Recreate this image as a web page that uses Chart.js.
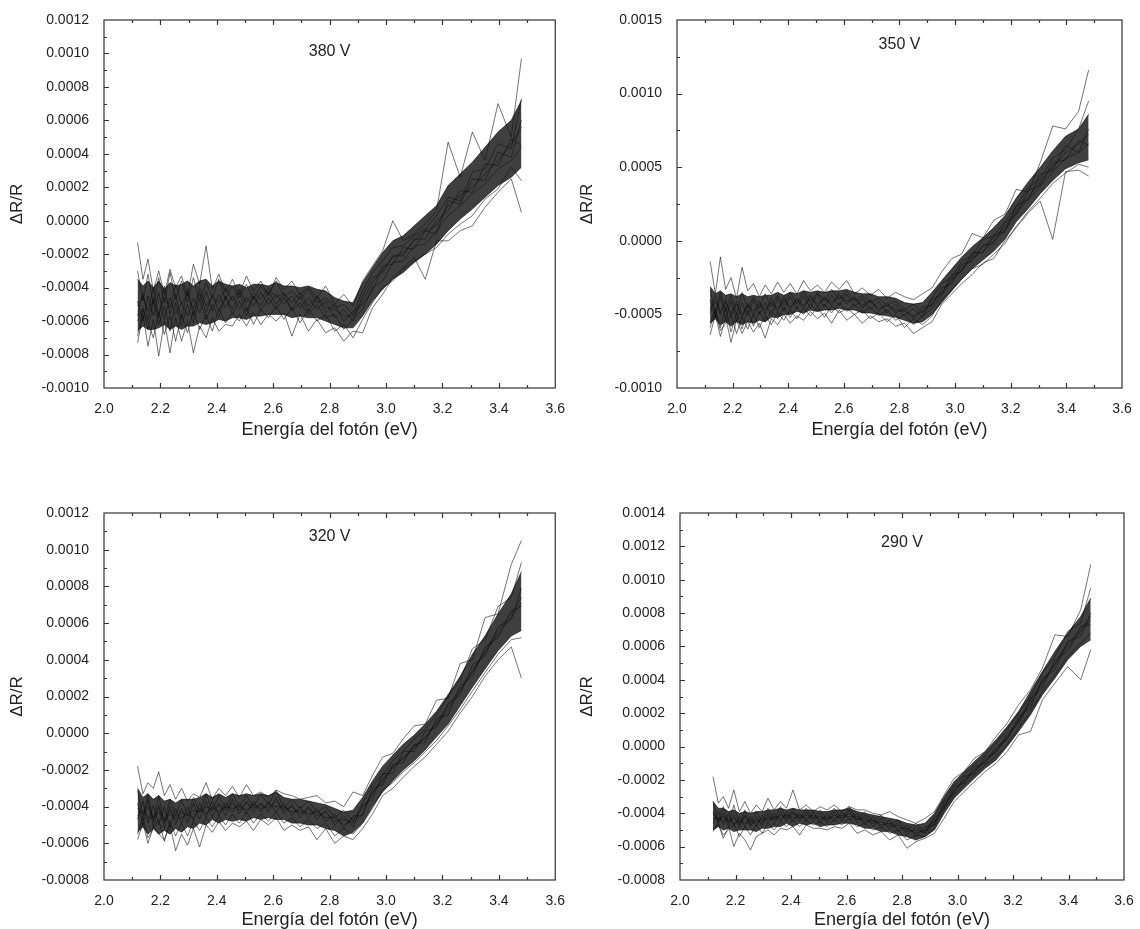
<!DOCTYPE html>
<html>
<head>
<meta charset="utf-8">
<script src="https://cdn.jsdelivr.net/npm/chart.js@4.4.1/dist/chart.umd.min.js"></script>
<style>
  html, body { margin: 0; padding: 0; background: #fff; overflow: hidden; }
  body { width: 1140px; height: 929px; position: relative; }
  canvas { position: absolute; }
</style>
</head>
<body>
<canvas id="c380" width="570" height="460" style="left:0;top:0"></canvas>
<canvas id="c350" width="570" height="460" style="left:570px;top:0"></canvas>
<canvas id="c320" width="570" height="480" style="left:0;top:460px"></canvas>
<canvas id="c290" width="570" height="480" style="left:570px;top:460px"></canvas>
<script>
/* Photoreflectance spectra at four bias voltages.
   Each panel: a dark band (spread of the repeated scans) plus a few
   individual scans drawn on top. */

// photon energy (eV), 585 nm -> 355 nm in 5 nm steps
const energia = [2.119, 2.138, 2.156, 2.175, 2.194, 2.214, 2.234, 2.254,
  2.275, 2.296, 2.317, 2.339, 2.362, 2.384, 2.407, 2.431,
  2.455, 2.480, 2.505, 2.530, 2.556, 2.583, 2.610, 2.638,
  2.666, 2.695, 2.725, 2.755, 2.786, 2.818, 2.850, 2.883,
  2.917, 2.952, 2.988, 3.024, 3.061, 3.100, 3.139, 3.179,
  3.220, 3.263, 3.306, 3.351, 3.397, 3.444, 3.480];

// all ΔR/R values below are in units of 1e-4

// 380 V
const hi380 = [-3.5,-3.9,-3.6,-4.0,-3.6,-4.1,-3.7,-3.9, -3.8,-3.6,-3.9,-3.6,-3.5,-3.9,-3.6,-3.8, -3.9,-3.8,-4.0,-3.8,-3.8,-3.9,-3.7,-3.9, -3.9,-4.0,-3.9,-4.1,-4.2,-4.6,-4.8,-4.9, -3.7,-2.8,-1.9,-1.2,-0.9,-0.3,0.3,0.9, 2.1,2.8,3.5,4.4,5.3,6.0,7.2];
const lo380 = [-6.6,-6.3,-6.5,-6.5,-6.4,-6.2,-6.5,-6.3, -6.5,-6.3,-6.3,-6.1,-6.2,-6.1,-5.9,-6.0, -5.8,-5.8,-5.9,-5.7,-5.7,-5.6,-5.6,-5.6, -5.8,-5.7,-5.8,-5.8,-6.0,-6.2,-6.4,-6.4, -5.7,-4.8,-4.1,-3.5,-3.1,-2.5,-2.0,-1.4, -0.6,0.1,0.7,1.4,2.1,2.6,3.2];
const s380a = [-1.3,-3.5,-2.3,-4.2,-3.0,-4.4,-2.9,-4.0, -3.3,-4.5,-2.6,-3.8,-1.5,-4.1,-3.2,-4.3, -3.5,-4.4,-3.3,-4.2,-3.6,-4.5,-3.4,-4.1, -3.6,-4.4,-4.0,-4.6,-3.9,-5.0,-4.4,-5.1, -3.6,-2.7,-1.8,0.0,-1.2,-0.8,-0.2,0.6, 4.7,2.6,5.3,3.6,7.0,5.0,9.7];
const s380b = [-7.3,-5.6,-7.5,-5.9,-8.1,-6.0,-7.9,-5.8, -7.2,-6.0,-7.9,-6.3,-7.0,-5.8,-6.6,-6.2, -6.3,-5.6,-6.3,-5.5,-6.2,-5.6,-6.0,-5.5, -6.9,-5.6,-6.6,-5.9,-6.7,-6.4,-7.2,-6.6, -6.7,-5.2,-4.4,-3.4,-2.8,-2.2,-3.5,-1.2, -1.2,-0.6,-0.3,0.8,1.7,2.5,0.5];
const s380c = [-4.8,-6.0,-4.5,-5.7,-4.3,-5.9,-4.6,-5.6, -4.9,-5.7,-4.6,-5.5,-4.2,-5.4,-4.4,-5.2, -4.5,-5.3,-4.6,-5.1,-4.3,-5.0,-4.4,-5.0, -4.5,-5.2,-4.6,-5.3,-4.8,-5.8,-5.3,-6.0, -4.5,-3.4,-3.1,-2.1,-2.1,-1.1,-1.1,0.0, 0.6,1.8,1.7,3.4,3.3,4.9,4.5];
const s380d = [-5.7,-4.3,-5.9,-4.6,-5.8,-3.9,-5.6,-4.4, -5.9,-4.1,-5.7,-4.3,-5.5,-4.4,-5.4,-4.5, -5.3,-4.3,-5.4,-4.5,-5.1,-4.2,-5.0,-4.4, -5.3,-4.5,-5.4,-4.6,-5.5,-5.0,-6.0,-5.4, -5.0,-4.2,-2.7,-2.6,-1.6,-1.7,-0.6,-0.8, 1.2,1.0,2.5,2.4,4.1,3.8,6.0];
const s380e = [-6.0,-5.2,-6.5,-4.8,-6.2,-5.1,-6.6,-4.9, -6.3,-5.0,-6.1,-4.7,-5.9,-5.0,-5.8,-4.6, -5.6,-4.8,-5.7,-4.5,-5.4,-4.6,-5.3,-4.6, -5.4,-4.9,-5.6,-5.0,-5.8,-5.6,-6.5,-5.9, -5.3,-4.0,-3.6,-2.5,-2.4,-1.5,-1.4,-0.6, 0.3,0.9,1.6,2.2,3.1,3.6,4.4];
const s380f = [-3.0,-4.8,-3.2,-5.0,-3.4,-4.9,-3.1,-4.7, -3.6,-4.9,-3.4,-4.8,-3.7,-4.6,-3.5,-4.7, -3.9,-4.6,-3.8,-4.7,-3.9,-4.4,-3.6,-4.5, -4.2,-4.7,-4.1,-4.9,-4.6,-5.2,-5.0,-5.6, -4.2,-3.1,-2.4,-1.6,-1.5,-0.9,-0.5,0.3, 1.4,1.2,2.9,3.1,4.6,4.3,7.3];
const s380g = [-6.9,-5.3,-6.1,-7.0,-5.5,-6.8,-5.7,-7.2, -5.6,-6.7,-5.4,-6.5,-5.6,-6.6,-5.3,-6.1, -5.5,-6.0,-5.2,-6.2,-5.3,-5.8,-5.1,-5.9, -5.2,-6.1,-5.3,-6.0,-5.6,-6.6,-6.2,-7.0, -5.9,-4.9,-4.0,-3.6,-2.9,-2.4,-2.0,-1.6, -0.8,-0.2,0.3,1.3,1.9,3.2,2.4];
const s380h = [-5.1,-4.5,-5.4,-4.0,-5.6,-4.6,-5.2,-3.8, -5.0,-4.3,-5.3,-4.0,-5.1,-4.6,-4.9,-4.0, -4.8,-4.1,-4.9,-4.3,-4.7,-4.0,-4.6,-4.3, -4.9,-4.3,-5.1,-4.5,-5.2,-5.3,-5.7,-5.7, -4.8,-3.7,-2.9,-2.2,-1.9,-1.2,-0.6,-0.3, 0.9,1.5,2.0,2.8,3.6,4.6,5.6];

// 350 V
const hi350 = [-3.1,-3.6,-3.4,-3.7,-3.6,-3.8,-3.6,-3.8, -3.7,-3.8,-3.7,-3.7,-3.5,-3.7,-3.5,-3.6, -3.4,-3.5,-3.4,-3.5,-3.4,-3.4,-3.3,-3.5, -3.6,-3.6,-3.8,-3.8,-3.9,-4.2,-4.3,-4.2, -3.5,-2.7,-1.9,-1.1,-0.4,0.2,0.9,1.7, 2.9,4.0,5.0,6.1,7.1,7.6,8.6];
const lo350 = [-5.6,-5.3,-5.7,-5.5,-5.8,-5.5,-5.7,-5.5, -5.6,-5.4,-5.5,-5.2,-5.2,-5.0,-5.0,-4.8, -4.9,-4.7,-4.8,-4.7,-4.7,-4.6,-4.7,-4.7, -4.9,-4.9,-5.0,-5.1,-5.2,-5.4,-5.6,-5.5, -5.0,-4.2,-3.4,-2.6,-1.9,-1.3,-0.7,0.1, 1.3,2.2,3.2,4.1,4.9,5.3,5.5];
const s350a = [-1.4,-3.6,-1.1,-3.3,-2.5,-3.9,-1.8,-3.4, -2.9,-3.8,-3.0,-3.6,-2.8,-3.5,-2.9,-3.6, -2.7,-3.4,-3.0,-3.5,-2.8,-3.3,-2.7,-3.6, -3.2,-3.7,-3.3,-3.9,-3.5,-3.8,-4.0,-3.6, -3.2,-2.1,-1.2,-0.9,0.5,0.2,1.4,1.8, 3.5,3.3,5.3,7.8,7.6,8.8,11.6];
const s350b = [-6.4,-5.0,-6.5,-5.2,-6.9,-5.4,-6.3,-5.5, -6.2,-5.6,-6.6,-5.3,-5.7,-5.0,-5.6,-5.1, -5.4,-4.8,-5.3,-4.9,-5.6,-4.7,-5.4,-5.0, -5.6,-5.1,-5.5,-5.3,-5.8,-5.6,-6.3,-5.9, -5.5,-4.3,-3.6,-2.9,-2.3,-1.5,-1.2,0.0, 0.9,1.9,2.7,0.1,4.7,4.8,4.4];
const s350c = [-4.0,-5.2,-3.8,-5.3,-4.1,-5.4,-4.2,-5.1, -4.0,-5.0,-4.2,-5.1,-3.9,-4.8,-3.8,-4.6, -3.7,-4.6,-3.6,-4.5,-3.7,-4.4,-3.6,-4.5, -3.9,-4.7,-4.1,-4.9,-4.3,-5.1,-4.6,-5.2, -4.0,-3.6,-2.3,-2.1,-0.8,-0.8,0.4,0.6, 2.4,2.8,4.5,4.8,6.5,6.0,7.6];
const s350d = [-4.9,-3.7,-5.0,-4.0,-5.2,-4.1,-5.3,-4.2, -5.1,-4.1,-5.0,-3.9,-4.9,-3.8,-4.7,-3.9, -4.6,-3.7,-4.5,-3.8,-4.4,-3.6,-4.3,-3.8, -4.6,-4.0,-4.8,-4.2,-4.9,-4.6,-5.3,-4.5, -4.4,-3.2,-2.9,-1.6,-1.4,-0.3,-0.2,1.2, 1.8,3.4,3.8,5.3,5.5,6.8,6.5];
const s350e = [-5.6,-4.6,-5.9,-4.5,-6.2,-4.9,-6.0,-4.7, -5.8,-4.8,-5.5,-4.7,-5.3,-4.5,-5.2,-4.5, -5.0,-4.3,-4.8,-4.3,-4.9,-4.2,-4.8,-4.3, -4.9,-4.5,-5.1,-4.7,-5.4,-5.0,-5.7,-5.1, -4.6,-3.7,-2.7,-2.0,-1.2,-0.7,0.0,0.7, 1.9,2.8,3.7,4.7,5.6,6.0,6.6];
const s350f = [-3.3,-4.9,-3.5,-4.8,-3.7,-5.0,-3.5,-4.6, -3.8,-4.6,-3.6,-4.5,-3.7,-4.4,-3.5,-4.3, -3.4,-4.2,-3.5,-4.1,-3.3,-4.0,-3.4,-4.1, -3.7,-4.2,-3.9,-4.4,-4.1,-4.7,-4.3,-4.9, -3.9,-2.9,-2.5,-1.4,-1.0,0.1,0.3,1.3, 2.3,3.6,4.2,5.6,6.2,7.6,9.5];
const s350g = [-5.9,-4.8,-6.1,-5.6,-5.0,-6.3,-5.2,-6.0, -5.0,-5.9,-5.1,-5.7,-4.9,-5.4,-4.7,-5.3, -4.6,-5.1,-4.5,-5.2,-4.4,-4.9,-4.6,-5.0, -4.7,-5.3,-4.9,-5.5,-5.0,-5.9,-5.3,-5.7, -5.1,-4.0,-3.3,-2.6,-1.9,-1.6,-0.9,-0.2, 1.0,2.0,2.9,3.9,4.6,5.2,5.0];
const s350h = [-4.6,-4.1,-4.8,-4.2,-4.9,-4.3,-5.0,-4.4, -4.8,-4.3,-4.7,-4.2,-4.6,-4.0,-4.5,-4.0, -4.4,-3.9,-4.3,-3.9,-4.2,-3.8,-4.1,-3.9, -4.4,-4.1,-4.6,-4.4,-4.7,-4.8,-5.1,-4.8, -4.3,-3.5,-2.6,-1.9,-1.1,-0.4,0.2,0.9, 2.1,3.0,4.0,5.0,6.0,6.6,7.2];

// 320 V
const hi320 = [-3.0,-3.5,-3.3,-3.6,-3.4,-3.7,-3.6,-3.8, -3.6,-3.6,-3.6,-3.5,-3.3,-3.5,-3.3,-3.5, -3.3,-3.4,-3.3,-3.4,-3.3,-3.4,-3.2,-3.5, -3.6,-3.6,-3.7,-3.8,-3.9,-4.1,-4.3,-4.2, -3.5,-2.6,-1.8,-1.2,-0.6,-0.1,0.5,1.2, 2.1,3.1,4.3,5.3,6.5,7.6,8.8];
const lo320 = [-5.4,-5.1,-5.5,-5.2,-5.5,-5.3,-5.5,-5.2, -5.4,-5.1,-5.2,-4.9,-5.0,-4.7,-4.9,-4.7, -4.8,-4.7,-4.8,-4.6,-4.7,-4.6,-4.7,-4.7, -4.9,-4.9,-5.0,-5.0,-5.2,-5.3,-5.6,-5.4, -4.9,-4.0,-3.2,-2.6,-2.0,-1.5,-0.9,-0.2, 0.5,1.5,2.5,3.5,4.5,5.3,5.6];
const s320a = [-1.8,-3.3,-2.7,-3.0,-2.1,-3.4,-2.8,-3.6, -3.0,-3.7,-3.3,-3.5,-2.7,-3.6,-3.0,-3.4, -2.9,-3.5,-2.8,-3.4,-3.2,-3.5,-3.1,-3.3, -3.4,-3.6,-3.5,-3.4,-3.8,-3.7,-4.0,-3.2, -3.4,-2.3,-1.3,-1.1,-0.3,0.4,0.5,1.8, 1.9,3.8,4.0,6.3,6.5,9.2,10.5];
const s320b = [-5.8,-4.9,-6.0,-5.1,-5.5,-5.8,-5.0,-6.4, -5.5,-6.1,-5.2,-6.2,-5.0,-5.4,-4.8,-5.3, -4.9,-5.1,-4.8,-5.3,-4.7,-5.0,-4.6,-5.3, -5.0,-5.3,-5.1,-5.8,-5.2,-6.0,-5.6,-5.8, -5.2,-4.4,-3.4,-3.0,-2.4,-1.8,-1.3,-0.6, 0.1,1.1,2.0,3.1,4.0,4.7,3.0];
const s320c = [-3.8,-5.0,-3.6,-5.1,-3.9,-5.2,-4.0,-5.0, -4.1,-4.9,-3.8,-4.7,-3.7,-4.6,-3.8,-4.5, -3.6,-4.4,-3.7,-4.3,-3.8,-4.3,-3.5,-4.4, -3.9,-4.6,-4.0,-4.7,-4.2,-5.0,-4.5,-5.1, -3.9,-3.6,-2.2,-2.2,-1.0,-1.0,0.1,0.3, 1.6,2.1,3.7,4.2,5.8,6.2,7.9];
const s320d = [-4.7,-3.7,-4.9,-3.9,-5.0,-4.0,-5.1,-4.1, -4.9,-4.0,-4.8,-3.8,-4.6,-3.7,-4.5,-3.8, -4.3,-3.8,-4.4,-3.7,-4.3,-3.7,-4.3,-3.8, -4.5,-4.0,-4.6,-4.1,-4.8,-4.4,-5.2,-4.5, -4.5,-3.0,-2.8,-1.7,-1.6,-0.6,-0.5,0.8, 1.0,2.6,3.1,4.7,5.2,6.7,6.9];
const s320e = [-4.5,-4.2,-4.6,-4.6,-4.3,-4.8,-4.4,-4.7, -4.6,-4.4,-4.6,-4.1,-4.4,-4.0,-4.3,-4.0, -4.1,-4.0,-4.2,-3.9,-4.1,-3.9,-4.0,-4.0, -4.3,-4.2,-4.4,-4.3,-4.6,-4.6,-5.0,-4.7, -4.1,-3.3,-2.5,-1.9,-1.3,-0.8,-0.2,0.5, 1.3,2.3,3.4,4.4,5.4,6.3,7.1];
const s320f = [-3.1,-4.6,-3.3,-4.8,-3.4,-4.9,-3.6,-4.5, -3.6,-4.5,-3.5,-4.3,-3.3,-4.2,-3.4,-4.1, -3.3,-4.0,-3.4,-4.0,-3.3,-3.9,-3.1,-4.1, -3.6,-4.1,-3.7,-4.3,-4.0,-4.6,-4.2,-4.8, -3.8,-2.8,-2.3,-1.5,-1.0,-0.3,0.2,1.0, 2.0,2.9,4.6,5.1,6.9,7.4,9.3];
const s320g = [-5.5,-4.6,-5.7,-5.2,-4.7,-5.9,-4.8,-5.6, -4.9,-5.6,-4.8,-5.3,-4.6,-5.1,-4.5,-5.0, -4.4,-4.9,-4.3,-4.9,-4.4,-4.8,-4.3,-4.9, -4.6,-5.1,-4.7,-5.2,-4.9,-5.6,-5.2,-5.5, -4.9,-4.1,-3.1,-2.7,-2.1,-1.6,-1.0,-0.4, 0.4,1.3,2.3,3.3,4.3,5.1,5.2];
const s320h = [-4.1,-4.4,-4.0,-4.6,-4.1,-4.7,-4.2,-4.6, -4.3,-4.5,-4.2,-4.3,-4.0,-4.2,-3.9,-4.2, -3.8,-4.2,-3.8,-4.1,-3.9,-4.1,-3.7,-4.2, -4.0,-4.4,-4.1,-4.5,-4.3,-4.8,-4.7,-4.9, -4.4,-3.2,-2.6,-1.8,-1.4,-0.7,-0.3,0.6, 1.5,2.4,3.3,4.5,5.6,6.5,7.4];

// 290 V
const hi290 = [-3.3,-3.7,-3.7,-3.9,-3.8,-4.0,-3.9,-4.0, -3.9,-3.9,-3.8,-3.8,-3.7,-3.8,-3.7,-3.8, -3.8,-3.8,-3.9,-3.9,-3.8,-3.8,-3.7,-3.9, -4.0,-4.1,-4.2,-4.3,-4.4,-4.6,-4.7,-4.6, -4.0,-3.0,-2.1,-1.5,-0.9,-0.3,0.4,1.2, 2.1,3.3,4.5,5.7,6.8,7.8,8.9];
const lo290 = [-5.0,-4.8,-5.0,-4.9,-5.1,-5.0,-5.0,-5.0, -5.1,-4.9,-4.9,-4.8,-4.8,-4.6,-4.8,-4.6, -4.7,-4.6,-4.8,-4.7,-4.7,-4.6,-4.6,-4.7, -4.9,-4.9,-5.1,-5.1,-5.3,-5.4,-5.6,-5.4, -5.0,-4.0,-3.1,-2.5,-1.9,-1.3,-0.8,0.0, 0.9,1.9,3.1,4.1,5.2,6.0,6.4];
const s290a = [-1.8,-3.4,-3.0,-3.7,-2.6,-3.9,-3.3,-4.0, -3.5,-3.9,-3.1,-3.8,-3.3,-3.7,-2.6,-3.8, -3.5,-3.9,-3.6,-3.8,-3.5,-3.9,-3.6,-3.8, -3.8,-4.0,-4.1,-3.9,-4.2,-4.4,-4.6,-4.3, -3.9,-2.9,-1.9,-1.5,-0.7,-0.3,0.6,1.4, 2.5,3.4,4.7,6.7,6.6,8.2,10.9];
const s290b = [-5.0,-4.6,-5.5,-4.8,-6.0,-5.2,-5.6,-6.2, -5.4,-5.2,-5.0,-5.3,-4.9,-5.0,-4.8,-5.3, -4.7,-4.9,-4.9,-5.0,-4.8,-4.9,-4.6,-5.2, -5.0,-5.3,-5.1,-5.6,-5.3,-6.1,-5.7,-5.5, -5.2,-4.3,-3.3,-2.7,-2.1,-1.5,-1.0,-0.3, 0.7,0.9,2.8,3.8,4.8,4.0,5.8];
const s290c = [-3.9,-4.6,-4.0,-4.8,-4.1,-4.9,-4.1,-4.8, -4.2,-4.8,-4.0,-4.7,-3.9,-4.5,-3.9,-4.5, -3.9,-4.5,-4.0,-4.6,-3.9,-4.5,-3.8,-4.6, -4.1,-4.8,-4.3,-5.0,-4.5,-5.3,-4.8,-5.2, -4.3,-3.7,-2.4,-2.2,-1.2,-1.0,0.0,0.4, 1.8,2.3,4.1,4.6,6.3,6.6,8.0];
const s290d = [-4.6,-3.9,-4.7,-4.0,-4.8,-4.2,-4.8,-4.2, -4.8,-4.1,-4.6,-4.0,-4.5,-3.9,-4.5,-4.0, -4.5,-3.9,-4.6,-4.0,-4.5,-3.9,-4.4,-4.0, -4.7,-4.2,-4.9,-4.4,-5.1,-4.7,-5.4,-4.8, -4.7,-3.3,-2.8,-1.8,-1.6,-0.6,-0.4,0.8, 1.3,2.9,3.5,5.2,5.7,7.2,7.3];
const s290e = [-4.3,-4.3,-4.5,-4.3,-4.6,-4.4,-4.6,-4.4, -4.6,-4.3,-4.4,-4.2,-4.3,-4.1,-4.3,-4.1, -4.3,-4.1,-4.4,-4.2,-4.3,-4.1,-4.2,-4.2, -4.5,-4.4,-4.7,-4.6,-4.9,-4.9,-5.2,-5.0, -4.5,-3.5,-2.6,-2.0,-1.4,-0.8,-0.2,0.6, 1.5,2.6,3.8,4.9,6.0,6.9,7.6];
const s290f = [-3.3,-4.5,-3.6,-4.6,-3.5,-4.7,-3.8,-4.6, -3.9,-4.5,-3.7,-4.4,-3.6,-4.3,-3.7,-4.3, -3.7,-4.3,-3.8,-4.4,-3.7,-4.3,-3.6,-4.4, -3.9,-4.5,-4.1,-4.7,-4.4,-5.0,-4.6,-5.1, -4.2,-3.2,-2.3,-1.7,-1.1,-0.5,0.2,1.0, 2.0,3.0,4.4,5.4,6.9,7.4,9.5];
const s290g = [-5.1,-4.7,-5.3,-5.0,-4.6,-5.4,-4.8,-5.3, -4.7,-5.2,-4.6,-5.0,-4.5,-4.8,-4.4,-4.8, -4.4,-4.7,-4.5,-4.8,-4.4,-4.7,-4.3,-4.8, -4.6,-5.0,-4.8,-5.2,-5.0,-5.6,-5.3,-5.4, -4.8,-3.8,-2.9,-2.3,-1.7,-1.1,-0.6,0.1, 1.1,2.1,3.3,4.3,5.4,6.2,6.8];
const s290h = [-4.0,-4.4,-4.2,-4.5,-4.3,-4.6,-4.2,-4.7, -4.4,-4.6,-4.2,-4.4,-4.1,-4.3,-4.0,-4.3, -4.1,-4.3,-4.2,-4.4,-4.1,-4.3,-4.0,-4.4, -4.3,-4.6,-4.5,-4.8,-4.7,-5.1,-5.0,-5.2, -4.6,-3.6,-2.7,-2.1,-1.5,-0.9,-0.3,0.5, 1.6,2.8,3.9,5.0,6.2,7.0,7.8];

// y axis limits and major step (same 1e-4 units)
const yLimits380 = [-10, 12, 2];
const yLimits350 = [-10, 15, 5];
const yLimits320 = [-8, 12, 2];
const yLimits290 = [-8, 14, 2];

const FONT = "'Liberation Sans', Arial, sans-serif";
const INK = "#222";
Chart.defaults.font.family = FONT;
Chart.defaults.color = INK;

const panels = [
  { id: "c380", label: "380 V", labelAt: [2.8, 10.1], lim: yLimits380,
    band: [hi380, lo380], scans: [s380a, s380b, s380c, s380d, s380e, s380f, s380g, s380h],
    yWidth: 104, xHeight: 72, pad: { top: 20, right: 13 }, titleGap: 19 },
  { id: "c350", label: "350 V", labelAt: [2.8, 13.3], lim: yLimits350,
    band: [hi350, lo350], scans: [s350a, s350b, s350c, s350d, s350e, s350f, s350g, s350h],
    yWidth: 107, xHeight: 72, pad: { top: 20, right: 18 }, titleGap: 19 },
  { id: "c320", label: "320 V", labelAt: [2.8, 10.7], lim: yLimits320,
    band: [hi320, lo320], scans: [s320a, s320b, s320c, s320d, s320e, s320f, s320g, s320h],
    yWidth: 104, xHeight: 60, pad: { top: 53, right: 13 }, titleGap: 9 },
  { id: "c290", label: "290 V", labelAt: [2.8, 12.2], lim: yLimits290,
    band: [hi290, lo290], scans: [s290a, s290b, s290c, s290d, s290e, s290f, s290g, s290h],
    yWidth: 110, xHeight: 60, pad: { top: 53, right: 16 }, titleGap: 9 },
];

function series(values) {
  return energia.map((e, i) => ({ x: e, y: values[i] }));
}

// box frame, inward ticks (bottom, top, left) and the voltage tag
const frame = {
  id: "frame",
  afterDatasetsDraw(chart, args, opts) {
    const { ctx, chartArea: a, scales: { x, y } } = chart;
    ctx.save();
    ctx.strokeStyle = "#333";
    ctx.lineWidth = 1.2;
    ctx.strokeRect(a.left, a.top, a.right - a.left, a.bottom - a.top);
    ctx.beginPath();
    for (let i = 1; i < 16; i++) {
      const px = Math.round(x.getPixelForValue(2 + i * 0.1)) + 0.5;
      const len = i % 2 === 0 ? 5 : 3;
      ctx.moveTo(px, a.bottom);
      ctx.lineTo(px, a.bottom - len);
      ctx.moveTo(px, a.top);
      ctx.lineTo(px, a.top + len);
    }
    const [lo, hi, step] = opts.lim;
    const n = Math.round((hi - lo) / (step / 2));
    for (let i = 1; i < n; i++) {
      const py = Math.round(y.getPixelForValue(lo + (i * step) / 2)) + 0.5;
      const len = i % 2 === 0 ? 5 : 3;
      ctx.moveTo(a.left, py);
      ctx.lineTo(a.left + len, py);
    }
    ctx.stroke();
    ctx.fillStyle = INK;
    ctx.font = "16px " + FONT;
    ctx.textAlign = "center";
    ctx.textBaseline = "middle";
    ctx.fillText(opts.label, x.getPixelForValue(opts.labelAt[0]), y.getPixelForValue(opts.labelAt[1]));
    ctx.restore();
  },
};

panels.forEach((p) => {
  const datasets = [
    {
      data: series(p.band[0]),
      fill: "+1",
      backgroundColor: "rgba(15, 15, 15, 0.8)",
      borderColor: "rgba(0, 0, 0, 0.6)",
      borderWidth: 1,
    },
    {
      data: series(p.band[1]),
      fill: false,
      borderColor: "rgba(0, 0, 0, 0.6)",
      borderWidth: 1,
    },
    ...p.scans.map((s) => ({
      data: series(s),
      fill: false,
      borderColor: "rgba(0, 0, 0, 0.55)",
      borderWidth: 1,
    })),
  ];

  new Chart(document.getElementById(p.id), {
    type: "line",
    data: { datasets },
    plugins: [frame],
    options: {
      responsive: false,
      devicePixelRatio: 1,
      animation: false,
      layout: { padding: { top: p.pad.top, right: p.pad.right, left: 0, bottom: 0 } },
      elements: { point: { radius: 0 }, line: { tension: 0 } },
      plugins: {
        legend: { display: false },
        tooltip: { enabled: false },
        frame: { label: p.label, labelAt: p.labelAt, lim: p.lim },
      },
      scales: {
        x: {
          type: "linear",
          min: 2.0,
          max: 3.6,
          afterFit: (s) => { s.height = p.xHeight; },
          grid: { display: false },
          border: { display: false },
          ticks: {
            stepSize: 0.2,
            padding: 5,
            font: { size: 14 },
            color: INK,
            callback: (v) => v.toFixed(1),
          },
          title: {
            display: true,
            text: "Energía del fotón (eV)",
            font: { size: 18 },
            color: INK,
            padding: { top: 0, bottom: p.titleGap },
          },
        },
        y: {
          min: p.lim[0],
          max: p.lim[1],
          afterFit: (s) => { s.width = p.yWidth; },
          grid: { display: false },
          border: { display: false },
          ticks: {
            stepSize: p.lim[2],
            padding: 7,
            font: { size: 14 },
            color: INK,
            callback: (v) => (v * 1e-4).toFixed(4),
          },
          title: {
            display: true,
            text: "ΔR/R",
            font: { size: 17 },
            color: INK,
            padding: { top: 7, bottom: 0 },
          },
        },
      },
    },
  });
});
</script>
</body>
</html>
